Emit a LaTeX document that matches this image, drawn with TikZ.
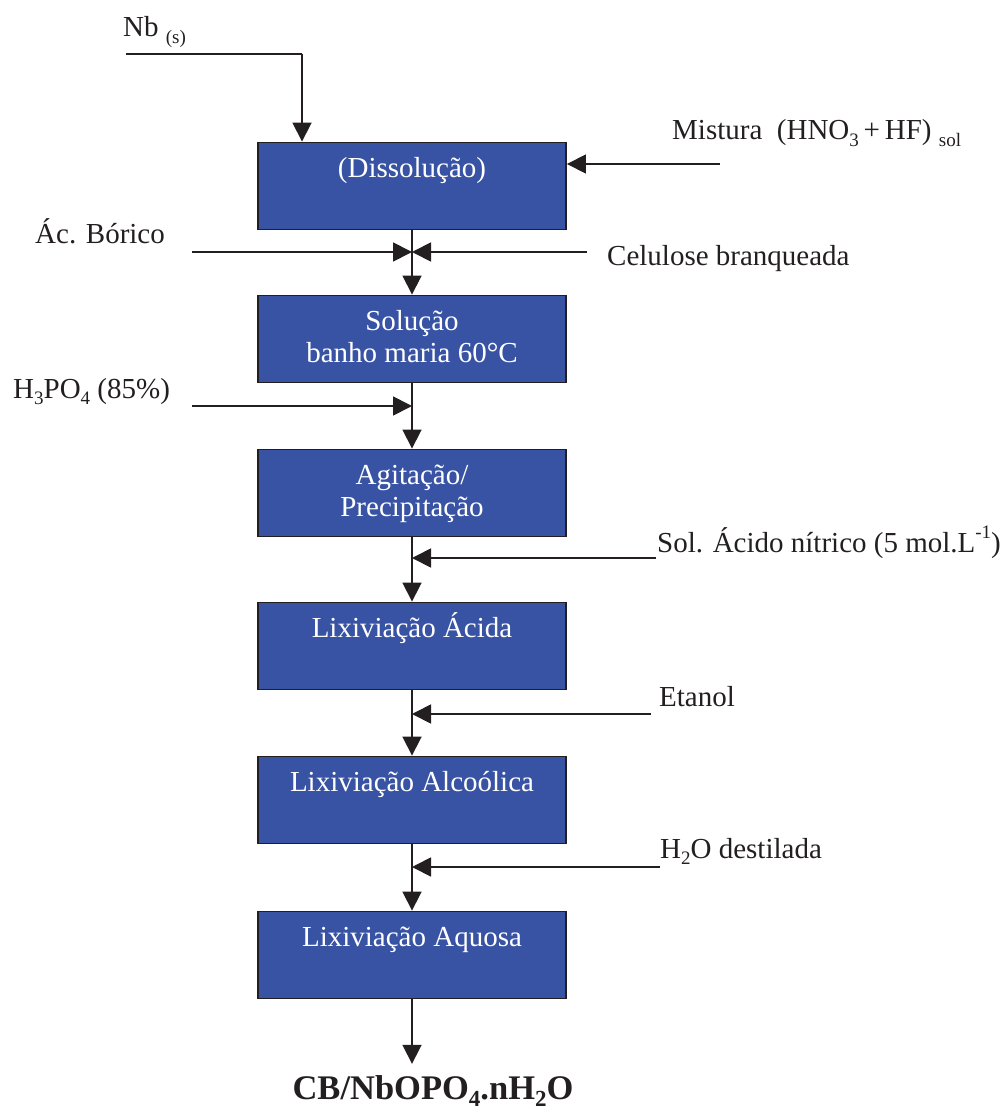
\documentclass[tikz,border=0pt]{standalone}
\usepackage{fontspec}
\setmainfont{Liberation Serif}
\usetikzlibrary{arrows.meta,positioning}
\definecolor{boxblue}{RGB}{57,83,164}
\definecolor{ink}{RGB}{35,31,32}
\newcommand\sbs[1]{\raisebox{-0.22em}{\fontsize{19}{19}\selectfont #1}}
\newcommand\sps[1]{\raisebox{0.45em}{\fontsize{19}{19}\selectfont #1}}
\begin{document}
\begin{tikzpicture}[x=1pt,y=-1pt,
  proc/.style={draw=ink,line width=1.9pt,fill=boxblue,minimum width=308pt,minimum height=87pt,inner sep=0pt},
  boxtxt/.style={text=white,align=center,inner sep=0pt,font=\fontsize{29}{32}\selectfont},
  lbl/.style={anchor=base west,inner sep=0pt,text=ink,font=\fontsize{29}{32}\selectfont},
  arr/.style={draw=ink,line width=1.8pt,-{Triangle[length=19pt,width=19pt]}},
  ln/.style={draw=ink,line width=1.8pt}]
\useasboundingbox (0,0) rectangle (1006,1110);

% process boxes
\node[proc] (b1) at (412,186) {};
\node[proc] (b2) at (412,339) {};
\node[proc] (b3) at (412,493) {};
\node[proc] (b4) at (412,646) {};
\node[proc] (b5) at (412,800) {};
\node[proc] (b6) at (412,955) {};

\node[boxtxt,anchor=north,below=8pt of b1.north] (t1) {\rule{0pt}{28pt}(Dissolução)};
\node[boxtxt,anchor=north,below=8pt of b2.north] (t2) {\rule{0pt}{28pt}Solução\\banho maria 60°C};
\node[boxtxt,anchor=north,below=8pt of b3.north] (t3) {\rule{0pt}{28pt}Agitação/\\Precipitação};
\node[boxtxt,anchor=north,below=8pt of b4.north] (t4) {\rule{0pt}{28pt}Lixiviação Ácida};
\node[boxtxt,anchor=north,below=8pt of b5.north] (t5) {\rule{0pt}{28pt}Lixiviação Alcoólica};
\node[boxtxt,anchor=north,below=8pt of b6.north] (t6) {\rule{0pt}{28pt}Lixiviação Aquosa};

% labels
\node[lbl] (lnb) at (123,37) {Nb \sbs{(s)}};
\node[lbl] (lmis) at (672,140) {Mistura\ \ (HNO\sbs{3}\,+\,HF) \sbs{sol}};
\node[lbl] (lbor) at (35,243) {Ác. Bórico};
\node[lbl] (lcel) at (607,265) {Celulose branqueada};
\node[lbl] (lh3) at (13,398) {H\sbs{3}PO\sbs{4} (85\%)};
\node[lbl] (lnit) at (657,552) {Sol. Ácido nítrico (5 mol.L\sps{-1})};
\node[lbl] (leta) at (659,706) {Etanol};
\node[lbl] (lh2o) at (660,858) {H\sbs{2}O destilada};
\node[anchor=base,inner xsep=0pt,inner ysep=11pt,text height=24pt,text=ink,
      font=\fontsize{34.5}{38}\selectfont\bfseries] (prod) at (433,1099)
      {CB/NbOPO\raisebox{-0.22em}{\fontsize{23}{23}\selectfont 4}.nH\raisebox{-0.22em}{\fontsize{23}{23}\selectfont 2}O};

% free ends
\coordinate (nbs) at (126,54);
\coordinate (nbc) at (302,54);
\coordinate (mis) at (720,164);
\coordinate (bor) at (192,252);
\coordinate (cel) at (587,252);
\coordinate (h3) at (192,406);
\coordinate (nit) at (656,558);
\coordinate (eta) at (651,714);
\coordinate (h2o) at (660,867);

% connectors
\draw[ln] (nbs) -- (nbc);
\draw[arr] (nbc) -- (nbc |- b1.north);
\draw[arr] (mis) -- (mis -| b1.east);
\draw[arr] (b1) -- (b2);
\draw[arr] (bor) -- (bor -| b1.south);
\draw[arr] (cel) -- (cel -| b1.south);
\draw[arr] (b2) -- (b3);
\draw[arr] (h3) -- (h3 -| b2.south);
\draw[arr] (b3) -- (b4);
\draw[arr] (nit) -- (nit -| b3.south);
\draw[arr] (b4) -- (b5);
\draw[arr] (eta) -- (eta -| b4.south);
\draw[arr] (b5) -- (b6);
\draw[arr] (h2o) -- (h2o -| b5.south);
\draw[arr] (b6.south) -- (b6.south |- prod.north);
\end{tikzpicture}
\end{document}
